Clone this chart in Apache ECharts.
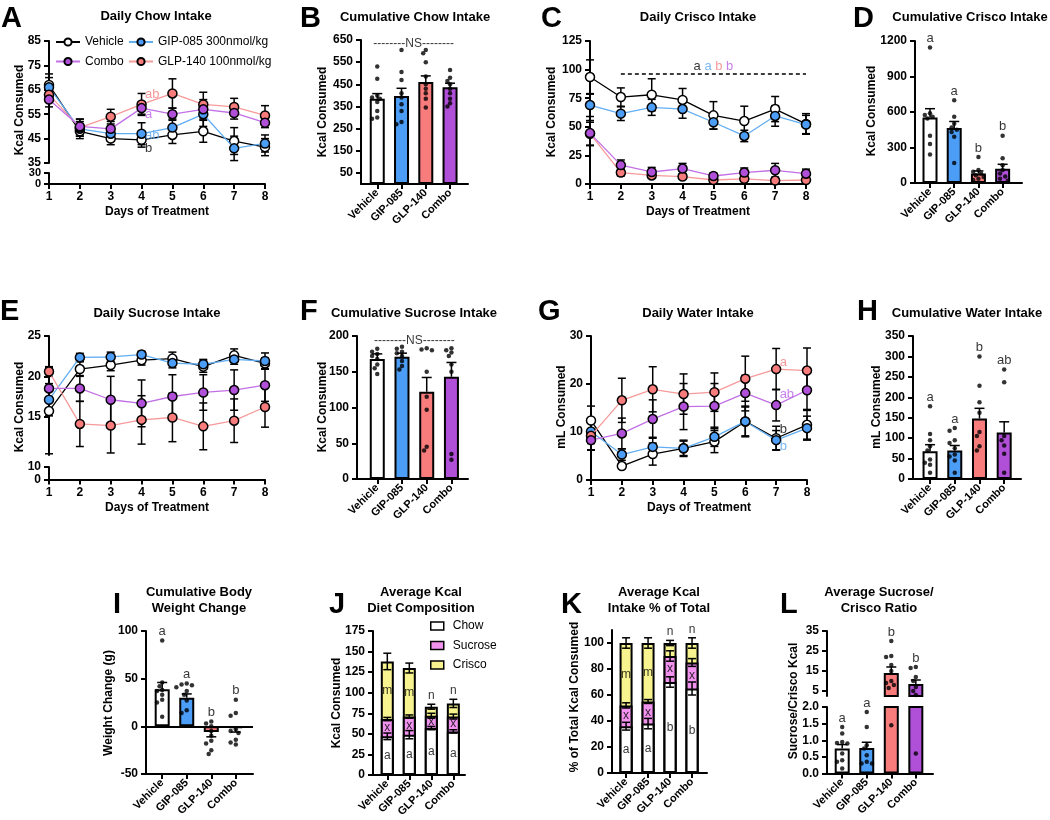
<!DOCTYPE html>
<html>
<head>
<meta charset="utf-8">
<title>Intake panels</title>
<script src="https://cdn.jsdelivr.net/npm/echarts@6.0.0/dist/echarts.min.js"></script>
<style>
  html, body { margin: 0; padding: 0; background: #fff; }
  #chart { width: 1050px; height: 820px; }
</style>
</head>
<body>
<div id="chart"></div>
<script>
const days = [1, 2, 3, 4, 5, 6, 7, 8];
const groups = ['Vehicle', 'GIP-085', 'GLP-140', 'Combo'];
const lineNames = ['Vehicle', 'GIP-085 300nmol/kg', 'GLP-140 100nmol/kg', 'Combo'];

// A - daily chow
const chowVehicle = [67, 48, 45, 44.5, 46.5, 48, 44, 41.5];
const chowVehicleSem = [4.5, 3, 2.5, 3, 3.5, 4.5, 5.5, 3.5];
const chowGip = [66, 49, 47, 47, 49.5, 55, 41, 43];
const chowGipSem = [4, 3, 3, 4.5, 3.5, 5, 5, 3.5];
const chowGlp = [63, 49.5, 54, 59, 63.5, 59, 58, 54.5];
const chowGlpSem = [3, 3.5, 3, 4.5, 6, 5, 3.5, 4];
const chowCombo = [61, 50, 49, 57.5, 55, 57, 55.5, 51.5];
const chowComboSem = [3, 3, 3, 2.5, 2.5, 4, 2.5, 2];
const chowLetters = ['b', 'ab', 'ab', 'a'];
const chowLetterY = [41, 46.5, 63, 55];

// B - cumulative chow
const chowTotal = [385, 397, 460, 437];
const chowTotalSem = [23, 35, 28, 18];
const chowTotalVehicle = [530, 475, 400, 390, 385, 370, 330, 300, 295];
const chowTotalGip = [605, 505, 470, 410, 390, 360, 330, 280, 270];
const chowTotalGlp = [605, 590, 550, 485, 450, 430, 410, 385, 345];
const chowTotalCombo = [515, 480, 465, 450, 430, 410, 385, 365, 350];

// C - daily crisco
const criscoVehicle = [93.5, 76, 78, 73.5, 60, 55, 65.5, 52.5];
const criscoVehicleSem = [15, 8, 14, 10, 12, 13, 11, 9];
const criscoGip = [69, 61.5, 67, 65.5, 54, 42, 59.5, 52];
const criscoGipSem = [10, 6, 7, 8, 6, 5, 9, 8];
const criscoGlp = [44, 10, 7.5, 6.5, 3.5, 4.5, 3, 3.5];
const criscoGlpSem = [10, 3, 2, 2, 1.5, 2, 1.5, 1.5];
const criscoCombo = [44.5, 16.5, 10.5, 13.5, 7, 10, 12, 9];
const criscoComboSem = [11, 4.5, 4, 4.5, 2.5, 4, 6, 4];
const criscoLetters = ['a', 'a', 'b', 'b'];

// D - cumulative crisco
const criscoTotal = [553, 465, 80, 120];
const criscoTotalSem = [75, 55, 22, 38];
const criscoTotalVehicle = [1145, 590, 575, 560, 545, 400, 330, 240];
const criscoTotalGip = [700, 560, 500, 470, 450, 430, 390, 170];
const criscoTotalGlp = [220, 110, 95, 80, 65, 50, 35, 25];
const criscoTotalCombo = [400, 210, 150, 110, 80, 55, 35, 20];
const criscoTotalLetters = ['a', 'a', 'b', 'b'];

// E - daily sucrose
const sucroseVehicle = [15.7, 20.9, 21.4, 22, 22.2, 21.2, 22.6, 21.6];
const sucroseVehicleSem = [5.3, 0.9, 0.7, 0.6, 0.8, 0.7, 0.8, 0.7];
const sucroseGip = [17.1, 22.35, 22.4, 22.7, 21.65, 21.5, 22.1, 21.9];
const sucroseGipSem = [2, 0.5, 0.6, 0.4, 0.6, 0.6, 0.6, 1];
const sucroseGlp = [20.6, 14.1, 13.9, 14.6, 14.9, 13.8, 14.5, 16.2];
const sucroseGlpSem = [0.6, 2.8, 3.4, 3, 3, 2.9, 2.7, 2.5];
const sucroseCombo = [18.5, 18.5, 17.1, 16.65, 17.5, 18, 18.3, 18.9];
const sucroseComboSem = [2.6, 1.6, 2.9, 2.9, 2.7, 2.2, 2.5, 2];

// F - cumulative sucrose
const sucroseTotal = [168, 171, 122, 143];
const sucroseTotalSem = [7, 5, 20, 20];
const sucroseTotalVehicle = [182, 178, 175, 172, 168, 160, 155, 147];
const sucroseTotalGip = [185, 182, 178, 176, 172, 165, 158, 153];
const sucroseTotalGlp = [183, 181, 180, 150, 115, 97, 45, 40];
const sucroseTotalCombo = [183, 180, 177, 172, 160, 150, 35, 27];

// G - daily water (mL)
const waterVehicle = [12.4, 2.9, 5.4, 6.6, 8, 12.2, 8.7, 11.5];
const waterVehicleSem = [3, 0.5, 2.3, 1.7, 2.3, 3.2, 2.5, 3];
const waterGip = [10.1, 5.3, 6.9, 6.6, 9, 12.2, 8.3, 10.8];
const waterGipSem = [2.5, 1.2, 2, 1.5, 2, 3, 2, 2.5];
const waterGlp = [9.2, 16.6, 18.9, 17.9, 18.3, 21.1, 23.1, 22.8];
const waterGlpSem = [3, 4.6, 4.7, 4.2, 4, 4.7, 4.3, 4.7];
const waterCombo = [8.3, 9.7, 12.7, 15.3, 15.4, 18.1, 15.6, 18.7];
const waterComboSem = [2, 3.2, 4, 4.8, 4.7, 3.7, 3.3, 4];
const waterLetters = ['b', 'b', 'a', 'ab'];
const waterLetterY = [10.6, 6.9, 24.4, 17.9];

// H - cumulative water
const waterTotal = [68, 70, 148, 114];
const waterTotalSem = [16, 12, 25, 26];
const waterTotalVehicle = [178, 110, 95, 80, 70, 48, 40, 35, 15];
const waterTotalGip = [125, 118, 95, 88, 75, 60, 55, 45, 15];
const waterTotalGlp = [300, 228, 188, 162, 115, 105, 80, 70];
const waterTotalCombo = [268, 237, 105, 95, 82, 62, 15];
const waterTotalLetters = ['a', 'a', 'b', 'ab'];

// I - body weight change (g)
const weightChange = [39, 30, -6, -2];
const weightChangeSem = [7, 4, 5, 4];
const weightVehicle = [90, 46, 42, 38, 37, 33, 28, 25, 10];
const weightGip = [45, 44, 43, 41, 37, 33, 27, 17, 14];
const weightGlp = [5, 3, 0, -5, -10, -15, -18, -25, -29];
const weightCombo = [28, 14, 11, -3, -5, -7, -14, -17, -19];
const weightLetters = ['a', 'a', 'b', 'b'];

// J - average kcal composition
const compChow = [47, 49, 57, 53];
const compChowSem = [4, 5, 2, 2];
const compSucrose = [21, 22, 15, 18];
const compSucroseSem = [2, 2, 3, 3];
const compCrisco = [70, 59, 11, 16];
const compCriscoSem = [10, 6, 3, 5];
const compChowLetters = ['a', 'a', 'a', 'a'];
const compSucroseLetters = ['x', 'x', 'x', 'x'];
const compCriscoLetters = ['m', 'm', 'n', 'n'];

// K - % of total kcal
const pctChow = [36, 38, 70, 65];
const pctChowSem = [3, 4, 4, 5];
const pctSucrose = [16, 17, 20, 20];
const pctSucroseSem = [2, 1.5, 4, 3];
const pctCrisco = [48, 45, 10, 15];
const pctCriscoSem = [4, 4, 2, 4];
const pctChowLetters = ['a', 'a', 'b', 'b'];
const pctSucroseLetters = ['x', 'x', 'x', 'x'];
const pctCriscoLetters = ['m', 'm', 'n', 'n'];

// L - sucrose / crisco ratio
const ratio = [0.75, 0.77, 14, 8.5];
const ratioSem = [0.12, 0.17, 3, 2];
const ratioVehicle = [1.4, 1.2, 0.95, 0.92, 0.9, 0.6, 0.4, 0.35, 0.15];
const ratioGip = [1.85, 1.4, 0.85, 0.75, 0.55, 0.35, 0.3, 0.3];
const ratioGlp = [30, 22.5, 22, 18, 15, 10, 9, 8, 6.5, 1.45];
const ratioCombo = [17, 16.5, 12, 10, 7, 5, 3, 0.6];
const ratioLetters = ['a', 'a', 'b', 'b'];

// ---------------------------------------------------------------
const F = '"Liberation Sans", Arial, Helvetica, sans-serif';
const FILL = ['#ffffff', '#4b9df5', '#f87c7c', '#b04fd7'];
const LINE = ['#000000', '#62aef3', '#f79a9a', '#c270e6'];
const TXT = ['#000000', '#5aa6f0', '#f47f7f', '#bb60e6'];
const STACK_FILL = ['#ffffff', '#f292ef', '#f7f48f'];

const grids = [], xAxis = [], yAxis = [], series = [], elements = [];
const AX = { show: true, onZero: false, lineStyle: { color: '#000', width: 2 } };
const TK = { show: true, length: 5, lineStyle: { color: '#000', width: 2 } };
const LB = { color: '#000', fontFamily: F, fontWeight: 'bold', fontSize: 12 };

function addGrid(l, t, w, h) {
    grids.push({ left: l, top: t, width: w, height: h });
    return grids.length - 1;
}

function valueY(g, min, max, ticks, fmt, size) {
    const label = Object.assign({ customValues: ticks, margin: 8 }, LB);
    label.formatter = fmt || (v => String(v));
    if (size) label.fontSize = size;
    yAxis.push({
        gridIndex: g, type: 'value', min, max,
        axisLine: AX, splitLine: { show: false },
        axisTick: Object.assign({ customValues: ticks }, TK),
        axisLabel: label
    });
    return yAxis.length - 1;
}

function daysX(g, show, named) {
    xAxis.push({
        gridIndex: g, type: 'value', min: 1, max: 8, interval: 1, show,
        axisLine: AX, axisTick: TK, splitLine: { show: false },
        axisLabel: Object.assign({ margin: 7 }, LB),
        name: named ? 'Days of Treatment' : '', nameLocation: 'middle', nameGap: 22,
        nameTextStyle: { color: '#000', fontFamily: F, fontWeight: 'bold', fontSize: 12 }
    });
    return xAxis.length - 1;
}

function groupX(g, min, max, show) {
    xAxis.push({
        gridIndex: g, type: 'value', min, max, show,
        axisLine: AX, splitLine: { show: false },
        axisTick: Object.assign({ customValues: [0, 1, 2, 3] }, TK),
        axisLabel: Object.assign({}, LB, {
            customValues: [0, 1, 2, 3], fontSize: 11, rotate: 45, margin: 7,
            formatter: v => groups[v] || ''
        })
    });
    return xAxis.length - 1;
}

function errBars(xi, yi, data, cap, z) {
    series.push({
        type: 'custom', xAxisIndex: xi, yAxisIndex: yi, z, silent: true, clip: false, data,
        renderItem(params, api) {
            const a = api.coord([api.value(0), api.value(1)]);
            const b = api.coord([api.value(0), api.value(2)]);
            const st = { stroke: '#000', lineWidth: 1.5 };
            const ch = [
                { type: 'line', shape: { x1: a[0], y1: a[1], x2: b[0], y2: b[1] }, style: st },
                { type: 'line', shape: { x1: b[0] - cap, y1: b[1], x2: b[0] + cap, y2: b[1] }, style: st }
            ];
            if (api.value(3)) ch.push({ type: 'line', shape: { x1: a[0] - cap, y1: a[1], x2: a[0] + cap, y2: a[1] }, style: st });
            return { type: 'group', children: ch };
        }
    });
}

function letterSeries(xi, yi, items, extra) {
    const s = {
        type: 'scatter', xAxisIndex: xi, yAxisIndex: yi, symbolSize: 1, z: 6, silent: true, clip: false,
        itemStyle: { color: 'rgba(0,0,0,0)' },
        data: items.map(t => ({
            value: [t.x, t.y],
            label: {
                show: true, formatter: t.text, position: t.pos || 'top', distance: t.dist == null ? 2 : t.dist,
                color: t.color || '#000', fontSize: t.size || 13, fontFamily: F, rich: t.rich
            }
        }))
    };
    series.push(Object.assign(s, extra || {}));
}

// spread close dots sideways (beeswarm style)
function swarm(vals, ci, upp, ppx) {
    const placed = [];
    const steps = [0, -1, 1, -2, 2, -3, 3, -4, 4];
    return vals.map(v => {
        let x = ci;
        for (const s of steps) {
            const cx = ci + s * 2.6 / ppx;
            if (placed.every(p => Math.hypot((p[0] - cx) * ppx, (p[1] - v) / upp) >= 4.2)) { x = cx; break; }
        }
        placed.push([x, v]);
        return [x, v];
    });
}

function dotSeries(xi, yi, pts) {
    series.push({
        type: 'scatter', xAxisIndex: xi, yAxisIndex: yi, symbolSize: 4.5, z: 5, silent: true,
        itemStyle: { color: '#000' }, data: pts
    });
}

function barSeries(xi, yi, mean, zeroLine) {
    const s = {
        type: 'bar', xAxisIndex: xi, yAxisIndex: yi, barWidth: 15, z: 2,
        data: mean.map((v, i) => ({ value: [i, v], itemStyle: { color: FILL[i] } })),
        itemStyle: { borderColor: '#000', borderWidth: 2 }
    };
    if (zeroLine) {
        s.markLine = {
            silent: true, symbol: 'none', label: { show: false },
            lineStyle: { color: '#000', width: 2, type: 'solid' }, data: [{ yAxis: 0 }]
        };
    }
    series.push(s);
}

function linePanel(o) {
    const gu = addGrid(o.left, o.top, o.width, o.height);
    const xu = daysX(gu, !o.lower, !o.lower);
    const yu = valueY(gu, o.min, o.max, o.ticks);
    if (o.lower) {
        const gl = addGrid(o.left, o.lower.top, o.width, o.lower.height);
        daysX(gl, true, true);
        valueY(gl, o.lower.min, o.lower.max, o.lower.ticks, null, o.lower.size);
    }
    o.means.forEach((m, k) => {
        errBars(xu, yu, days.map((d, i) => [d, m[i] - o.sems[k][i], m[i] + o.sems[k][i], 1]), 4, 2);
    });
    o.means.forEach((m, k) => {
        series.push({
            type: 'line', name: lineNames[k], xAxisIndex: xu, yAxisIndex: yu, z: 3 + k,
            data: days.map((d, i) => [d, m[i]]),
            symbol: 'circle', symbolSize: 9,
            itemStyle: { color: FILL[k], borderColor: '#000', borderWidth: 1.5 },
            lineStyle: { color: LINE[k], width: 1.3 }
        });
    });
    return { xu, yu };
}

function barPanel(o) {
    const g = addGrid(o.left, o.top, o.width, o.height);
    const xi = groupX(g, o.xmin, o.xmax, true);
    const yi = valueY(g, o.ymin, o.ymax, o.ticks, o.fmt);
    const upp = (o.ymax - o.ymin) / o.height, ppx = o.width / (o.xmax - o.xmin);
    barSeries(xi, yi, o.mean, o.zeroLine);
    errBars(xi, yi, o.mean.map((v, i) => [i, v, v + (v < 0 ? -1 : 1) * o.sem[i], 0]), 5, 3);
    dotSeries(xi, yi, o.dots.flatMap((d, i) => swarm(d, i, upp, ppx)));
    if (o.letters) {
        letterSeries(xi, yi, o.letters.map((t, i) => ({
            x: i, y: Math.max(Math.max(...o.dots[i]), o.mean[i] + o.sem[i]), text: t
        })));
    }
    return { xi, yi };
}

// stacked columns drawn as overlapping cumulative bars (top segment first)
function stackPanel(o) {
    const g = addGrid(o.left, o.top, o.width, o.height);
    const xi = groupX(g, o.xmin, o.xmax, true);
    const yi = valueY(g, o.ymin, o.ymax, o.ticks);
    const names = ['Chow', 'Sucrose', 'Crisco'];
    const cum = [];
    let run = o.parts[0].map(() => 0);
    o.parts.forEach(p => { run = run.map((r, i) => r + p[i]); cum.push(run.slice()); });
    for (let k = o.parts.length - 1; k >= 0; k--) {
        series.push({
            type: 'bar', name: names[k], xAxisIndex: xi, yAxisIndex: yi, barWidth: 13, barGap: '-100%', z: 2,
            data: cum[k].map((v, i) => [i, v]),
            itemStyle: { color: STACK_FILL[k], borderColor: '#000', borderWidth: 2 }
        });
    }
    const items = [];
    o.parts.forEach((p, k) => {
        const tops = cum[k];
        errBars(xi, yi, tops.map((t, i) => [i, t - o.sems[k][i], t + o.sems[k][i], 1]), 4, 3);
        o.letters[k].forEach((t, i) => {
            if (t === 'n') items.push({ x: i, y: tops[i] + o.sems[k][i], text: t, size: 12 });
            else items.push({ x: i, y: tops[i] - p[i] / 2, text: t, pos: 'inside', size: 12 });
        });
    });
    letterSeries(xi, yi, items);
}

// ---------- A ----------
const a = linePanel({
    left: 49, top: 41, width: 216, height: 122, min: 35, max: 85, ticks: [35, 45, 55, 65, 75, 85],
    lower: { top: 173, height: 11, min: 0, max: 30, ticks: [0, 30], size: 11 },
    means: [chowVehicle, chowGip, chowGlp, chowCombo],
    sems: [chowVehicleSem, chowGipSem, chowGlpSem, chowComboSem]
});
letterSeries(a.xu, a.yu, chowLetters.map((t, k) => ({ x: 4, y: chowLetterY[k], text: t, pos: 'right', dist: 3, color: TXT[k] })));

// ---------- B ----------
const b = barPanel({
    left: 361, top: 40, width: 107, height: 144, xmin: -0.67, xmax: 3.74, ymin: 0, ymax: 650,
    ticks: [50, 150, 250, 350, 450, 550, 650], mean: chowTotal, sem: chowTotalSem,
    dots: [chowTotalVehicle, chowTotalGip, chowTotalGlp, chowTotalCombo]
});
letterSeries(b.xi, b.yi, [{ x: 1.5, y: 635, text: '--------NS--------', pos: 'inside', size: 12 }]);

// ---------- C ----------
const c = linePanel({
    left: 590, top: 41, width: 216, height: 143, min: 0, max: 125, ticks: [0, 25, 50, 75, 100, 125],
    means: [criscoVehicle, criscoGip, criscoGlp, criscoCombo],
    sems: [criscoVehicleSem, criscoGipSem, criscoGlpSem, criscoComboSem]
});
const criscoRich = {};
criscoLetters.forEach((t, k) => { criscoRich['c' + k] = { color: TXT[k], fontSize: 13, fontFamily: F }; });
letterSeries(c.xu, c.yu, [{
    x: 5, y: 96, text: criscoLetters.map((t, k) => '{c' + k + '|' + t + '}').join(' '), dist: 1, rich: criscoRich
}], {
    markLine: {
        silent: true, symbol: 'none', label: { show: false },
        lineStyle: { color: '#000', width: 1.5, type: [4, 3] },
        data: [[{ coord: [2, 96] }, { coord: [8, 96] }]]
    }
});

// ---------- D ----------
barPanel({
    left: 915, top: 41, width: 107, height: 142, xmin: -0.62, xmax: 3.8, ymin: 0, ymax: 1200,
    ticks: [0, 300, 600, 900, 1200], mean: criscoTotal, sem: criscoTotalSem,
    dots: [criscoTotalVehicle, criscoTotalGip, criscoTotalGlp, criscoTotalCombo], letters: criscoTotalLetters
});

// ---------- E ----------
linePanel({
    left: 49, top: 336, width: 216, height: 119, min: 10.25, max: 25, ticks: [15, 20, 25],
    lower: { top: 467, height: 12.5, min: 0, max: 10, ticks: [0, 10] },
    means: [sucroseVehicle, sucroseGip, sucroseGlp, sucroseCombo],
    sems: [sucroseVehicleSem, sucroseGipSem, sucroseGlpSem, sucroseComboSem]
});

// ---------- F ----------
const f = barPanel({
    left: 357, top: 336, width: 111, height: 143, xmin: -0.82, xmax: 3.67, ymin: 0, ymax: 200,
    ticks: [0, 50, 100, 150, 200], mean: sucroseTotal, sem: sucroseTotalSem,
    dots: [sucroseTotalVehicle, sucroseTotalGip, sucroseTotalGlp, sucroseTotalCombo]
});
letterSeries(f.xi, f.yi, [{ x: 1.5, y: 193, text: '--------NS--------', pos: 'inside', size: 12 }]);

// ---------- G ----------
const gw = linePanel({
    left: 591, top: 336, width: 216, height: 144, min: 0, max: 30, ticks: [0, 10, 20, 30],
    means: [waterVehicle, waterGip, waterGlp, waterCombo],
    sems: [waterVehicleSem, waterGipSem, waterGlpSem, waterComboSem]
});
letterSeries(gw.xu, gw.yu, waterLetters.map((t, k) => ({ x: 7, y: waterLetterY[k], text: t, pos: 'right', dist: 3, color: TXT[k] })));

// ---------- H ----------
barPanel({
    left: 913, top: 336, width: 108, height: 143, xmin: -0.69, xmax: 3.68, ymin: 0, ymax: 350,
    ticks: [0, 50, 100, 150, 200, 250, 300, 350], mean: waterTotal, sem: waterTotalSem,
    dots: [waterTotalVehicle, waterTotalGip, waterTotalGlp, waterTotalCombo], letters: waterTotalLetters
});

// ---------- I ----------
barPanel({
    left: 146, top: 631, width: 107, height: 143, xmin: -0.66, xmax: 3.7, ymin: -50, ymax: 100,
    ticks: [-50, 0, 50, 100], mean: weightChange, sem: weightChangeSem, zeroLine: true,
    dots: [weightVehicle, weightGip, weightGlp, weightCombo], letters: weightLetters
});

// ---------- J ----------
stackPanel({
    left: 373, top: 631, width: 92, height: 144, xmin: -0.65, xmax: 3.53, ymin: 0, ymax: 175,
    ticks: [0, 25, 50, 75, 100, 125, 150, 175],
    parts: [compChow, compSucrose, compCrisco], sems: [compChowSem, compSucroseSem, compCriscoSem],
    letters: [compChowLetters, compSucroseLetters, compCriscoLetters]
});

// ---------- K ----------
stackPanel({
    left: 612, top: 630, width: 95, height: 143, xmin: -0.64, xmax: 3.68, ymin: 0, ymax: 110,
    ticks: [0, 20, 40, 60, 80, 100],
    parts: [pctChow, pctSucrose, pctCrisco], sems: [pctChowSem, pctSucroseSem, pctCriscoSem],
    letters: [pctChowLetters, pctSucroseLetters, pctCriscoLetters]
});

// ---------- L (broken axis: two grids) ----------
const lUpper = { left: 827, top: 631, width: 106, height: 65, min: 2.5, max: 35 };
const lLower = { left: 827, top: 707, width: 106, height: 66.5, min: 0, max: 2 };
const gLu = addGrid(lUpper.left, lUpper.top, lUpper.width, lUpper.height);
const gLl = addGrid(lLower.left, lLower.top, lLower.width, lLower.height);
const xLu = groupX(gLu, -0.62, 3.7, false), xLl = groupX(gLl, -0.62, 3.7, true);
const yLu = valueY(gLu, lUpper.min, lUpper.max, [5, 15, 25, 35]);
const yLl = valueY(gLl, lLower.min, lLower.max, [0, 0.5, 1, 1.5, 2], v => v.toFixed(1));
barSeries(xLu, yLu, ratio);
barSeries(xLl, yLl, ratio);
const ratioDots = [ratioVehicle, ratioGip, ratioGlp, ratioCombo];
const lppx = 106 / 4.32;
ratio.forEach((v, i) => {
    const up = v > 2;
    errBars(up ? xLu : xLl, up ? yLu : yLl, [[i, v, v + ratioSem[i], 0]], 5, 3);
});
dotSeries(xLu, yLu, ratioDots.flatMap((d, i) => swarm(d.filter(v => v > lUpper.min), i, (lUpper.max - lUpper.min) / lUpper.height, lppx)));
dotSeries(xLl, yLl, ratioDots.flatMap((d, i) => swarm(d.filter(v => v <= lLower.max), i, (lLower.max - lLower.min) / lLower.height, lppx)));
ratioLetters.forEach((t, i) => {
    const y = Math.max(Math.max(...ratioDots[i]), ratio[i] + ratioSem[i]);
    const up = y > lUpper.min;
    letterSeries(up ? xLu : xLl, up ? yLu : yLl, [{ x: i, y, text: t }]);
});

// ---------- text: titles, panel letters, axis names ----------
const titles = [
    ['Daily Chow Intake', 156, 16], ['Cumulative Chow Intake', 415, 17],
    ['Daily Crisco Intake', 698, 17], ['Cumulative Crisco Intake', 970, 17],
    ['Daily Sucrose Intake', 157, 313], ['Cumulative Sucrose Intake', 414, 313],
    ['Daily Water Intake', 698, 313], ['Cumulative Water Intake', 967, 313],
    ['Cumulative Body\nWeight Change', 199, 600], ['Average Kcal\nDiet Composition', 421, 600],
    ['Average Kcal\nIntake % of Total', 659, 600], ['Average Sucrose/\nCrisco Ratio', 879, 600]
];
const panelLetters = [
    ['A', 1, 4], ['B', 300, 4], ['C', 541, 4], ['D', 853, 4],
    ['E', 0, 297], ['F', 300, 297], ['G', 538, 297], ['H', 857, 297],
    ['I', 113, 590], ['J', 329, 590], ['K', 561, 590], ['L', 780, 590]
];
const yNames = [
    ['Kcal Consumed', 20, 110], ['Kcal Consumed', 323, 112], ['Kcal Consumed', 552, 112], ['Kcal Consumed', 872, 111],
    ['Kcal Consumed', 20, 407], ['Kcal Consumed', 323, 407], ['mL Consumed', 562, 407], ['mL Consumed', 877, 407],
    ['Weight Change (g)', 109, 703], ['Kcal Consumed', 337, 703], ['% of Total Kcal Consumed', 575, 697],
    ['Sucrose/Crisco Kcal', 794, 701]
];

titles.forEach(([t, x, y]) => elements.push({
    type: 'text', x, y, silent: true,
    style: { text: t, fontFamily: F, fontWeight: 'bold', fontSize: 13, lineHeight: 16, fill: '#000', align: 'center', verticalAlign: 'middle' }
}));
panelLetters.forEach(([t, x, y]) => elements.push({
    type: 'text', x, y, silent: true,
    style: { text: t, fontFamily: F, fontWeight: 'bold', fontSize: 29, fill: '#000', align: 'left', verticalAlign: 'top' }
}));
yNames.forEach(([t, x, y]) => elements.push({
    type: 'text', x, y, rotation: Math.PI / 2, silent: true,
    style: { text: t, fontFamily: F, fontWeight: 'bold', fontSize: 12, fill: '#000', align: 'center', verticalAlign: 'middle' }
}));

const legendText = { fontFamily: F, fontSize: 12, color: '#000' };
const chart = echarts.init(document.getElementById('chart'));
chart.setOption({
    animation: false,
    backgroundColor: '#ffffff',
    textStyle: { fontFamily: F },
    grid: grids,
    xAxis,
    yAxis,
    series,
    legend: [
        { data: ['Vehicle', 'Combo'], orient: 'vertical', padding: 0, left: 55, top: 36, itemWidth: 24, itemHeight: 9, itemGap: 7.5, selectedMode: false, textStyle: legendText },
        { data: ['GIP-085 300nmol/kg', 'GLP-140 100nmol/kg'], orient: 'vertical', padding: 0, left: 128, top: 36, itemWidth: 24, itemHeight: 9, itemGap: 7.5, selectedMode: false, textStyle: legendText },
        {
            data: ['Chow', 'Sucrose', 'Crisco'], orient: 'vertical', padding: 0, left: 430, top: 620, itemWidth: 13, itemHeight: 8, itemGap: 7.5,
            icon: 'rect', selectedMode: false, itemStyle: { borderColor: '#000', borderWidth: 1.5 },
            textStyle: Object.assign({ padding: [0, 0, 0, 4] }, legendText)
        }
    ],
    graphic: { elements }
});
window.addEventListener('resize', () => chart.resize());
</script>
</body>
</html>
